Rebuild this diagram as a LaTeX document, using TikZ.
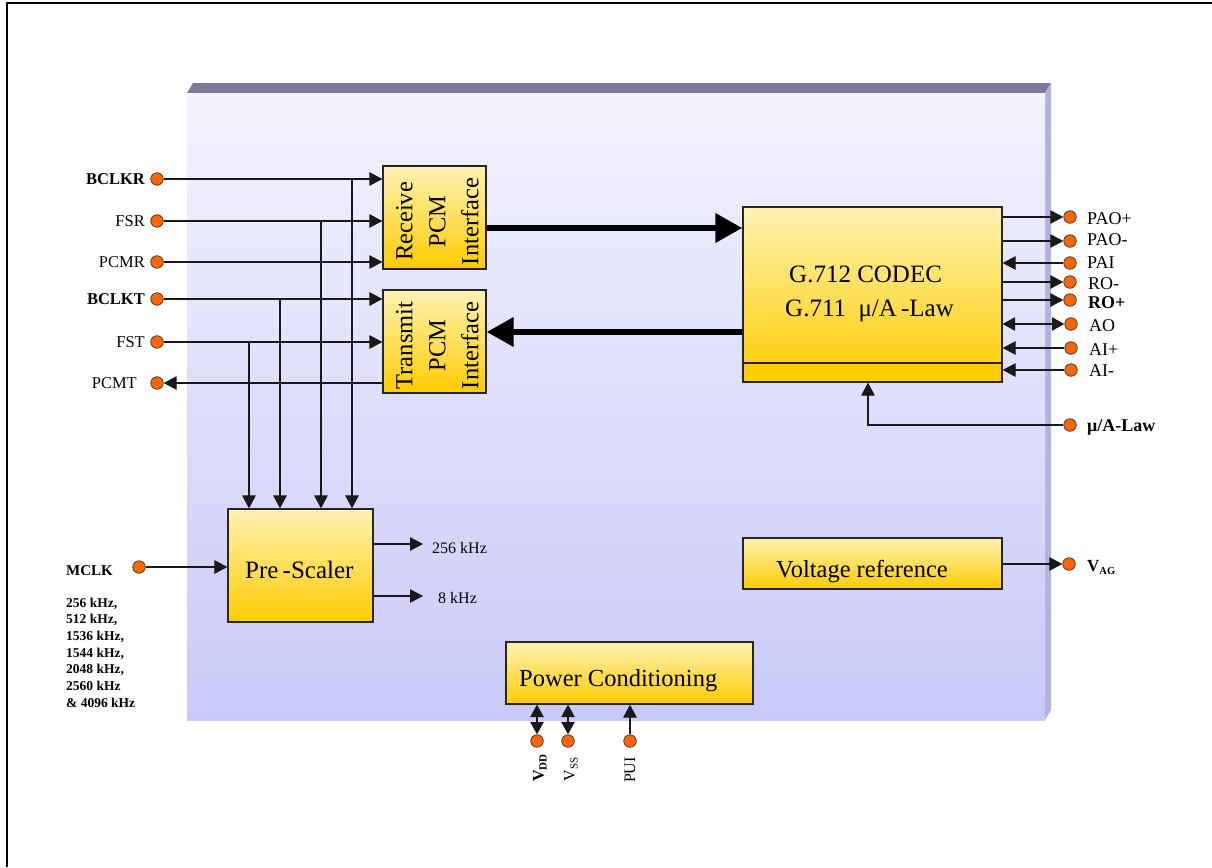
\documentclass[tikz,border=0pt]{standalone}
\usepackage{fontspec}
\setmainfont{Liberation Serif}
\usetikzlibrary{arrows.meta,calc}
\definecolor{pinorange}{HTML}{FF6600}
\definecolor{boxtop}{HTML}{FFF2B4}
\definecolor{boxbot}{HTML}{FFCC00}
\definecolor{panelT}{HTML}{F3F3FE}
\definecolor{panelB}{HTML}{C9C9F9}
\definecolor{bandc}{HTML}{7B7B99}
\definecolor{sidec}{HTML}{B3B3E0}
\newcommand\pinfont{\fontsize{16.5}{19}\selectfont}
\newcommand\rpinfont{\fontsize{18}{21}\selectfont}
\newcommand\bigfont{\fontsize{24.5}{33}\selectfont}
\begin{document}
\begin{tikzpicture}[x=1pt,y=-1pt,
 pindot/.style={circle, draw=black!75, line width=0.8pt, fill=pinorange, minimum size=12.5pt, inner sep=0pt},
 blk/.style={rectangle, draw=black!85, line width=1.2pt, top color=boxtop, bottom color=boxbot, inner sep=0pt},
 arr/.style={line width=1.1pt, draw=black!90, -{Triangle[length=13pt,width=13.5pt]}},
 darr/.style={line width=1.1pt, draw=black!90, {Triangle[length=12.5pt,width=13.5pt]}-{Triangle[length=12.5pt,width=13.5pt]}},
 fat/.style={line width=6.5pt, draw=black, -{Triangle[length=27pt,width=28pt]}},
 lbl/.style={inner sep=0pt, font=\pinfont},
 rlbl/.style={inner sep=0pt, font=\rpinfont, anchor=base west},
 txt/.style={inner sep=0pt, font=\bigfont},
]
\useasboundingbox (0,0) rectangle (1212,867);
% frame
\draw[line width=2.5pt] (7,867) -- (7,3) -- (1212,3);
% panel
\fill[bandc] (187,93) -- (193,83) -- (1051,83) -- (1045,93) -- cycle;
\fill[sidec] (1045,93) -- (1051,83) -- (1051,710) -- (1045,720) -- cycle;
\shade[top color=panelT, bottom color=panelB] (187,93) rectangle (1045,720);

% blocks
\node[blk, minimum width=103pt, minimum height=103pt] (rx) at (434.5,217.5) {};
\node[txt, rotate=90, align=center] (rxt) at (437.5,221.5) {Receive\\PCM\\Interface};
\node[blk, minimum width=103pt, minimum height=103pt] (tx) at (434.5,341.5) {};
\node[txt, rotate=90, align=center] (txt1) at (437.5,345.5) {Transmit\\PCM\\Interface};
\node[blk, minimum width=259pt, minimum height=175pt] (codec) at (872.5,294.5) {};
\draw[fill=boxbot, draw=black!85, line width=1.2pt] (743,363) rectangle (1002,382);
\node[txt, anchor=base west, font=\fontsize{25}{30}\selectfont] (cdt1) at (789,282) {G.712 CODEC};
\node[txt, anchor=base west, font=\fontsize{25}{30}\selectfont] (cdt2) at (785,316) {G.711\ \ μ/A\,-Law};
\node[blk, minimum width=145pt, minimum height=113pt] (ps) at (300.5,565.5) {};
\node[txt, anchor=base west, font=\fontsize{25}{30}\selectfont] (pst) at (245,578) {Pre\,-Scaler};
\node[blk, minimum width=259pt, minimum height=51pt] (vr) at (872.5,563.5) {};
\node[txt, anchor=base west] (vrt) at (776,577) {Voltage reference};
\node[blk, minimum width=247pt, minimum height=62pt] (pc) at (629.5,673) {};
\node[txt, anchor=base west] (pct) at (519,686) {Power Conditioning};

% thick buses
\draw[fat] ($(rx.east)+(0,10.5)$) -- ($(codec.west)+(0,-66.5)$);
\draw[fat] ($(codec.west)+(0,37.5)$) -- ($(tx.east)+(0,-9.5)$);

% left pins
\node[pindot] (pbclkr) at (157,179) {};
\node[pindot] (pfsr) at (157,221) {};
\node[pindot] (ppcmr) at (157,262) {};
\node[pindot] (pbclkt) at (157,299) {};
\node[pindot] (pfst) at (157,342) {};
\node[pindot] (ppcmt) at (157,383) {};
\node[lbl, anchor=base east, font=\pinfont\bfseries] (lbclkr) at (145,184.5) {BCLKR};
\node[lbl, anchor=base east] (lfsr) at (145,226.5) {FSR};
\node[lbl, anchor=base east] (lpcmr) at (145,267.5) {PCMR};
\node[lbl, anchor=base east, font=\pinfont\bfseries] (lbclkt) at (145,304.5) {BCLKT};
\node[lbl, anchor=base east] (lfst) at (145,347.5) {FST};
\node[lbl, anchor=base east] (lpcmt) at (137,388.5) {PCMT};

\draw[arr] (pbclkr) -- (pbclkr -| rx.west);
\draw[arr] (pfsr) -- (pfsr -| rx.west);
\draw[arr] (ppcmr) -- (ppcmr -| rx.west);
\draw[arr] (pbclkt) -- (pbclkt -| tx.west);
\draw[arr] (pfst) -- (pfst -| tx.west);
\draw[arr] (ppcmt -| tx.west) -- (ppcmt);

% taps to prescaler
\coordinate (j1) at (352,179);
\coordinate (j2) at (321,221);
\coordinate (j3) at (280,299);
\coordinate (j4) at (249,342);
\draw[arr] (j1) -- (j1 |- ps.north);
\draw[arr] (j2) -- (j2 |- ps.north);
\draw[arr] (j3) -- (j3 |- ps.north);
\draw[arr] (j4) -- (j4 |- ps.north);

% MCLK
\node[pindot] (pmclk) at (139,567) {};
\draw[arr] (pmclk) -- (pmclk -| ps.west);
\node[lbl, anchor=base west, font=\fontsize{15}{18}\selectfont\bfseries] (lmclk) at (66,575) {MCLK};
\node[inner sep=0pt, anchor=north west, align=left, font=\fontsize{13.5}{16.7}\selectfont\bfseries] (lfreq) at (66,597.5) {256 kHz,\\512 kHz,\\1536 kHz,\\1544 kHz,\\2048 kHz,\\2560 kHz\\\& 4096 kHz};

% prescaler outputs
\coordinate (o256) at (423,544);
\coordinate (o8) at (423,596);
\draw[arr] (ps.east |- o256) -- (o256);
\draw[arr] (ps.east |- o8) -- (o8);
\node[lbl, anchor=base west, font=\fontsize{16}{19}\selectfont] (l256) at (432,553) {256 kHz};
\node[lbl, anchor=base west, font=\fontsize{16}{19}\selectfont] (l8) at (438,603) {8 kHz};

% right pins
\node[pindot] (ppaop) at (1070,217) {};
\node[pindot] (ppaom) at (1070,241) {};
\node[pindot] (ppai) at (1070,263) {};
\node[pindot] (prom) at (1070,282) {};
\node[pindot] (prop) at (1070,300) {};
\node[pindot] (pao) at (1071,324) {};
\node[pindot] (paip) at (1071,348) {};
\node[pindot] (paim) at (1071,370) {};
\node[pindot] (plaw) at (1070,425) {};
\draw[arr] (codec.east |- ppaop) -- (ppaop);
\draw[arr] (codec.east |- ppaom) -- (ppaom);
\draw[arr] (ppai) -- (codec.east |- ppai);
\draw[arr] (codec.east |- prom) -- (prom);
\draw[arr] (codec.east |- prop) -- (prop);
\draw[darr] (codec.east |- pao) -- (pao);
\draw[arr] (paip) -- (codec.east |- paip);
\draw[arr] (paim) -- (codec.east |- paim);
\coordinate (lawbend) at (868,425);
\draw[arr] (plaw) -| (codec.south -| lawbend);

\node[rlbl] (lpaop) at (1087,224.5) {PAO+};
\node[rlbl] (lpaom) at (1087,245.5) {PAO-};
\node[rlbl] (lpai) at (1087,268.5) {PAI};
\node[rlbl] (lrom) at (1088,289.5) {RO-};
\node[rlbl, font=\rpinfont\bfseries] (lrop) at (1088,308.5) {RO+};
\node[rlbl] (lao) at (1089,331.5) {AO};
\node[rlbl] (laip) at (1089,355.5) {AI+};
\node[rlbl] (laim) at (1089,376.5) {AI-};
\node[rlbl, font=\rpinfont\bfseries] (llaw) at (1087,431) {μ/A-Law};

% VAG
\node[pindot] (pvag) at (1069,564) {};
\draw[arr] (vr.east |- pvag) -- (pvag);
\node[rlbl, font=\fontsize{17}{20}\selectfont\bfseries] (lvag) at (1087,571) {V\raisebox{-3pt}{\fontsize{10.5}{12}\selectfont AG}};

% power pins
\node[pindot] (pvdd) at (537,741) {};
\node[pindot] (pvss) at (568,741) {};
\node[pindot] (ppui) at (630,741) {};
\draw[darr] (pc.south -| pvdd) -- (pvdd);
\draw[darr] (pc.south -| pvss) -- (pvss);
\draw[arr] (ppui) -- (pc.south -| ppui);
\node[lbl, rotate=90, anchor=east, font=\fontsize{16}{19}\selectfont\bfseries] (lvdd) at (540,754) {V\raisebox{-3pt}{\fontsize{11}{13}\selectfont DD}};
\node[lbl, rotate=90, anchor=east, font=\fontsize{16}{19}\selectfont] (lvss) at (571,757) {V\raisebox{-3pt}{\fontsize{11}{13}\selectfont SS}};
\node[lbl, rotate=90, anchor=east, font=\fontsize{16}{19}\selectfont] (lpui) at (630,757) {PUI};
\end{tikzpicture}
\end{document}
